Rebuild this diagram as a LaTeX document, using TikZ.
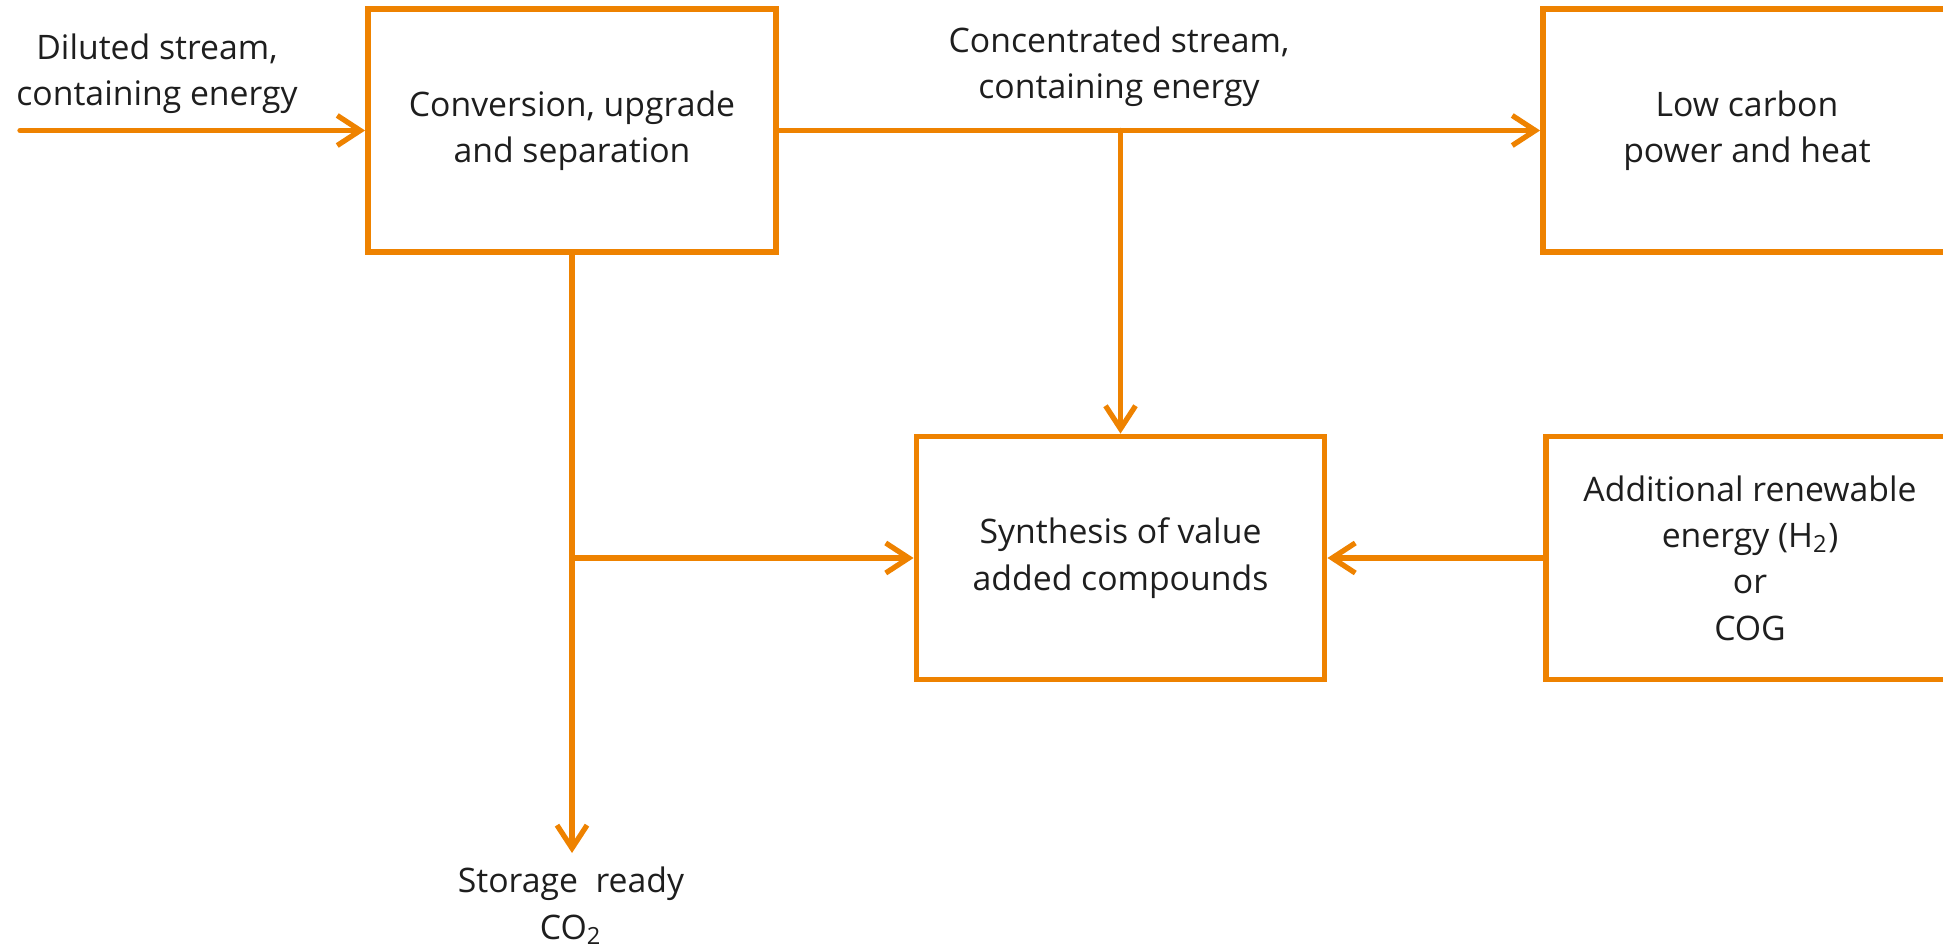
\documentclass[tikz,border=0pt]{standalone}
\usepackage{fontspec}
\setmainfont{Open Sans}
\usepackage{tikz}
\usetikzlibrary{arrows.meta,positioning,calc}
\definecolor{flow}{RGB}{238,130,0}
\definecolor{ink}{RGB}{30,30,30}
\tikzset{
  procbox/.style={draw=flow, line width=1.6pt, minimum width=4.08cm, minimum height=2.43cm, align=center, inner sep=0pt, text=ink, font=\fontsize{9.6}{13.2}\selectfont},
  flowlabel/.style={align=center, inner sep=0pt, text=ink, font=\fontsize{9.6}{13.2}\selectfont},
  flowline/.style={-{Straight Barb[length=2.3mm,width=3mm]}, draw=flow, line width=1.5pt, line cap=round}
}
\begin{document}
\begin{tikzpicture}[x=0.01cm,y=-0.01cm]
  \useasboundingbox (0,0) rectangle (1943,949);

  \node[procbox] (conv) at (572,130.5) {Conversion, upgrade\\and separation};
  \node[procbox] (power) at (1747,130.5) {Low carbon\\power and heat};
  \node[procbox] (synth) at (1120.5,558) {Synthesis of value\\added compounds};
  \node[procbox] (renew) at (1750,558) {Additional renewable\\energy (H\textsubscript{2})\\or\\COG};

  \coordinate (src) at (conv.west -| 20,0);
  \coordinate (split) at (conv.east -| synth.north);
  \coordinate (tee) at (conv.south |- synth.west);
  \coordinate (store) at (572,853);

  \draw[flowline] (src) -- (conv.west);
  \draw[flowline] (conv.east) -- (power.west);
  \draw[flowline] (split) -- (synth.north);
  \draw[flowline] (conv.south) -- (store);
  \draw[flowline] (tee) -- (synth.west);
  \draw[flowline] (renew.west) -- (synth.east);

  \node[flowlabel] (diluted) at (157,74) {Diluted stream,\\containing energy};
  \node[flowlabel] (concen) at (1119,67) {Concentrated stream,\\containing energy};
  \node[flowlabel] (co2) at (571,906) {Storage\ \ ready\\CO\textsubscript{2}};
\end{tikzpicture}
\end{document}
